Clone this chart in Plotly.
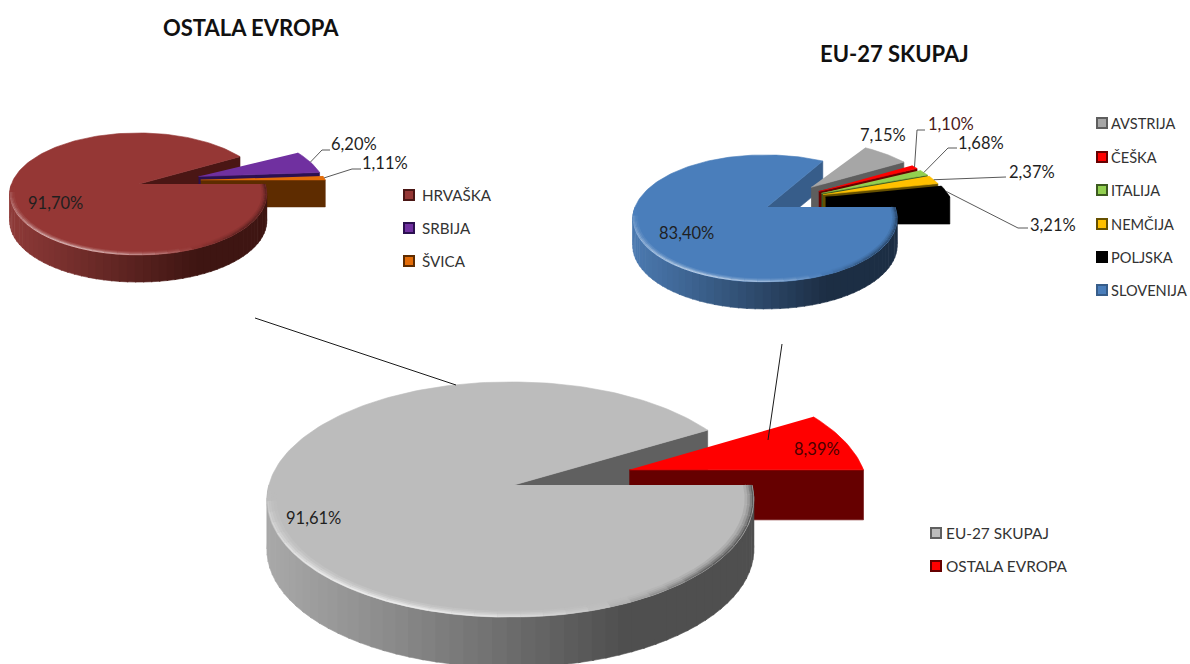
import math
import plotly.graph_objects as go

# Shares per region (percent), in legend order
europe_other_labels = ["HRVAŠKA", "SRBIJA", "ŠVICA"]
europe_other_values = [91.70, 6.20, 1.11]
eu27_labels = ["AVSTRIJA", "ČEŠKA", "ITALIJA", "NEMČIJA", "POLJSKA", "SLOVENIJA"]
eu27_values = [7.15, 1.10, 1.68, 2.37, 3.21, 83.40]
total_labels = ["EU-27 SKUPAJ", "OSTALA EVROPA"]
total_values = [91.61, 8.39]

FONT = "Lato"
TEXT = "#1f1f1f"


def hexrgb(c):
    return tuple(int(c[i:i + 2], 16) for i in (1, 3, 5))


def mix(a, b, t):
    t = max(0.0, min(1.0, t))
    ra, rb = hexrgb(a), hexrgb(b)
    return "#%02x%02x%02x" % tuple(round(x + (y - x) * t) for x, y in zip(ra, rb))


fig = go.Figure()


def poly(xs, ys, fill):
    fig.add_trace(go.Scatter(x=xs, y=ys, mode="lines", fill="toself", fillcolor=fill,
                             line=dict(color=fill, width=0.6), hoverinfo="skip", showlegend=False))


def stroke(xs, ys, color, width=1.0):
    fig.add_trace(go.Scatter(x=xs, y=ys, mode="lines", line=dict(color=color, width=width),
                             hoverinfo="skip", showlegend=False))


def arc(a, b, n):
    n = max(n, 2)
    return [a + (b - a) * i / (n - 1) for i in range(n)]


class Pie3D:
    """Tilted cylinder pie: a unit circle projected with simple perspective."""

    def __init__(self, cx, cy, radius, tilt, persp, skew, depth):
        self.cx, self.cy, self.radius, self.tilt = cx, cy, radius, tilt
        self.persp, self.skew, self.depth = persp, skew, depth

    def project(self, u, v, low=False):
        s = 1 / (1 + self.persp * v + self.skew * min(u, 0))
        y = self.cy - self.tilt * v * s
        if low:
            y += self.depth
        return self.cx + self.radius * u * s, y

    def ring(self, ox, oy, angles, r=1.0, low=False):
        pts = [self.project(ox + r * math.cos(t), oy + r * math.sin(t), low) for t in angles]
        return [p[0] for p in pts], [p[1] for p in pts]

    def rim(self, ox, oy, a, b, light, dark, xmin, xmax):
        lo, hi = max(a, math.pi), min(b, 2 * math.pi)
        if hi <= lo:
            return
        steps = max(2, int((hi - lo) / math.radians(3)))
        for i in range(steps):
            t0, t1 = lo + (hi - lo) * i / steps, lo + (hi - lo) * (i + 1.15) / steps
            t1 = min(t1, hi)
            xt, yt = self.ring(ox, oy, [t0, t1])
            xb, yb = self.ring(ox, oy, [t1, t0], low=True)
            shade = ((xt[0] - xmin) / (xmax - xmin)) / 0.72
            poly(xt + xb, yt + yb, mix(light, dark, shade))

    def wall(self, ox, oy, t, fill):
        xa, ya = self.project(ox, oy)
        xb, yb = self.project(ox + math.cos(t), oy + math.sin(t))
        xc, yc = self.project(ox + math.cos(t), oy + math.sin(t), True)
        xd, yd = self.project(ox, oy, True)
        poly([xa, xb, xc, xd], [ya, yb, yc, yd], fill)

    def top(self, ox, oy, a, b, fill):
        xs, ys = self.ring(ox, oy, arc(a, b, int((b - a) / math.radians(1.5)) + 2))
        xa, ya = self.project(ox, oy)
        poly([xa] + xs, [ya] + ys, fill)

    def bevel(self, a, b, fill):
        # Soft rounded edge of the main disc: bright along the front, dark at the right
        unit = self.radius / 238
        rings = ((7.5, 3.0, 0.15), (5.0, 2.6, 0.35), (2.8, 2.2, 0.65), (1.0, 1.6, 1.0))
        for inset, width, gain in rings:
            r = 1 - inset / 238
            angles = arc(a, b, int((b - a) / math.radians(5)) + 2)
            for t0, t1 in zip(angles, angles[1:]):
                mid = math.degrees((t0 + t1) / 2)
                if mid > 290:
                    col = mix(fill, "#000000", gain * 0.5 * min(1, (mid - 290) / 30))
                elif mid >= 185:
                    col = mix(fill, "#ffffff", gain * 0.7 * math.sin(math.radians((mid - 185) * 180 / 105)) ** 0.7)
                else:
                    continue
                xs, ys = self.ring(0, 0, [t0, t1], r)
                stroke(xs, ys, col, max(0.8, width * unit))


def draw_pie(pie, labels, values, main, styles, explode, turn):
    """styles: label -> (top, wall, rim light, rim dark). Outer slices go anticlockwise from 3 o'clock.
    turn: degrees added to each outer slice's explosion direction, keyed by label."""
    main_start = 2 * math.pi * (1 - values[main] / 100)
    outer = [i for i in range(len(labels)) if i != main][::-1]
    top, wall, light, dark = styles[labels[main]]
    pie.wall(0, 0, main_start, wall)

    xmin, xmax = pie.cx - pie.radius * 1.03, pie.cx + pie.radius
    anchors = {}
    start = 0.0
    parts = []
    for i in outer:
        sweep = 2 * math.pi * values[i] / 100
        parts.append((i, start, start + sweep))
        start += sweep
    # Back slices first so the nearer ones overlap them
    for i, a, b in reversed(parts):
        mid = (a + b) / 2
        way = mid + math.radians(turn.get(labels[i], 0))
        ox, oy = explode * math.cos(way), explode * math.sin(way)
        t, w, lt, dk = styles[labels[i]]
        pie.wall(ox, oy, a, w)
        pie.top(ox, oy, a, b, t)
        anchors[i] = pie.project(ox + math.cos(mid), oy + math.sin(mid))
    pie.rim(0, 0, main_start, 2 * math.pi, light, dark, xmin, xmax)
    pie.top(0, 0, main_start, 2 * math.pi, top)
    pie.bevel(max(main_start, math.radians(35)), 2 * math.pi, top)
    return anchors


def pct(v):
    return f"{v:.2f}".replace(".", ",") + "%"


def label(text, x, y, size=16.5, bold=False, color=TEXT, anchor="center"):
    fig.add_annotation(x=x, y=y, text=f"<b>{text}</b>" if bold else text, showarrow=False,
                       xanchor=anchor, yanchor="middle", font=dict(family=FONT, size=size, color=color))


def legend(labels, styles, x, ys, text_x, size):
    for name, y in zip(labels, ys):
        fig.add_trace(go.Scatter(x=[x], y=[y], mode="markers", hoverinfo="skip", showlegend=False,
                                 marker=dict(symbol="square", size=10, color=styles[name][0],
                                             line=dict(color=styles[name][1], width=2))))
        label(name, text_x, y, size=size, color="#333333", anchor="left")


left_styles = {
    "HRVAŠKA": ("#953735", "#4a1614", "#8e3a38", "#3e1512"),
    "SRBIJA": ("#7030a0", "#2c1050", "#7030a0", "#2c1050"),
    "ŠVICA": ("#e36c09", "#5e2c00", "#e36c09", "#5e2c00"),
}
right_styles = {
    "AVSTRIJA": ("#a6a6a6", "#5e5e5e", "#a6a6a6", "#5e5e5e"),
    "ČEŠKA": ("#ff0000", "#660000", "#ff0000", "#660000"),
    "ITALIJA": ("#92d050", "#3d5a20", "#92d050", "#3d5a20"),
    "NEMČIJA": ("#ffc000", "#665000", "#ffc000", "#665000"),
    "POLJSKA": ("#000000", "#000000", "#000000", "#000000"),
    "SLOVENIJA": ("#4a7ebb", "#375d8a", "#4a78ae", "#1c2e44"),
}
total_styles = {
    "EU-27 SKUPAJ": ("#bcbcbc", "#606060", "#a8a8a8", "#4f4f4f"),
    "OSTALA EVROPA": ("#ff0000", "#660000", "#ff0000", "#660000"),
}

pie_left = Pie3D(139, 184, 126, 59.4, 0.164, 0.012, 27)
pie_right = Pie3D(767, 207, 128, 61.4, 0.18, 0.03, 27)
pie_total = Pie3D(514, 485, 238, 115.7, 0.1234, 0.029, 50)

anchors_left = draw_pie(pie_left, europe_other_labels, europe_other_values, 0, left_styles, 0.5,
                        {"ŠVICA": 6})
anchors_right = draw_pie(pie_right, eu27_labels, eu27_values, 5, right_styles, 0.5,
                         {"POLJSKA": 13.7, "NEMČIJA": 9, "ITALIJA": 4.5, "ČEŠKA": 4})
draw_pie(pie_total, total_labels, total_values, 0, total_styles, 0.51, {})

LEADER = "#595959"


def leader(anchor, elbow, end):
    stroke([anchor[0], elbow[0], end[0]], [anchor[1], elbow[1], end[1]], LEADER, 1.0)


# Leader lines from the slices out to their percentage labels
leader(anchors_left[1], (322, 150), (330, 150))
leader(anchors_left[2], (352, 169), (361, 169))
leader(anchors_right[1], (917, 130), (925, 130))
leader(anchors_right[2], (948, 148), (957, 148))
leader(anchors_right[3], (1005, 177), (1006, 177))
leader(anchors_right[4], (1018, 228), (1028, 228))

# Series lines joining the summary pie to the two detail pies
stroke([255, 456], [318, 385], "#1a1a1a", 1.0)
stroke([782, 768], [344, 440], "#1a1a1a", 1.0)

label(pct(europe_other_values[0]), 55, 203)
label(pct(europe_other_values[1]), 354, 144)
label(pct(europe_other_values[2]), 385, 163)
label(pct(eu27_values[0]), 883, 135)
label(pct(eu27_values[1]), 951, 124, color="#4a1a1a")
label(pct(eu27_values[2]), 981, 143)
label(pct(eu27_values[3]), 1032, 172)
label(pct(eu27_values[4]), 1053, 225)
label(pct(eu27_values[5]), 686, 233)
label(pct(total_values[0]), 313, 518)
label(pct(total_values[1]), 817, 449, color="#4a0000")

label("OSTALA EVROPA", 251, 27, size=22, bold=True, color="#111111")
label("EU-27 SKUPAJ", 894, 53, size=22, bold=True, color="#111111")

legend(europe_other_labels, left_styles, 409, [195, 228, 261], 420, 15.2)
legend(eu27_labels, right_styles, 1102, [123, 157, 190, 224, 257, 290], 1109, 14.6)
legend(total_labels, total_styles, 936, [533, 566], 944, 15.4)

fig.update_layout(
    width=1190, height=664, autosize=False,
    margin=dict(l=0, r=0, t=0, b=0),
    paper_bgcolor="white", plot_bgcolor="white",
    xaxis=dict(range=[0, 1190], visible=False, fixedrange=True),
    yaxis=dict(range=[664, 0], visible=False, fixedrange=True),
    showlegend=False,
)

fig.write_html("out.html", config=dict(displayModeBar=False))
